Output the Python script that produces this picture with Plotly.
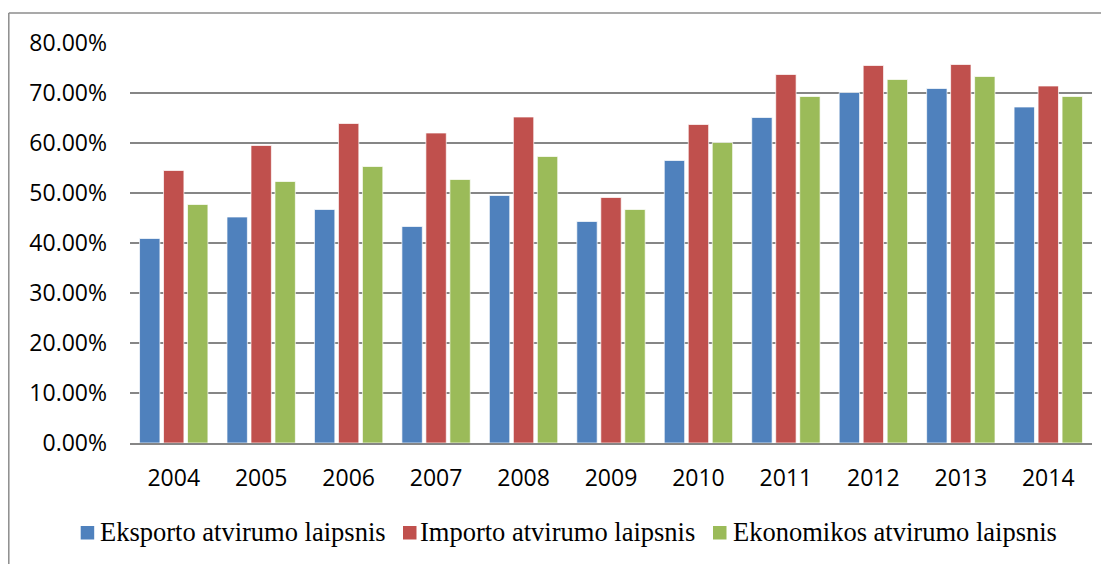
import plotly.graph_objects as go

years = ["2004", "2005", "2006", "2007", "2008", "2009", "2010", "2011", "2012", "2013", "2014"]
eksportas = [0.409, 0.452, 0.467, 0.433, 0.495, 0.443, 0.565, 0.651, 0.701, 0.709, 0.672]
importas = [0.545, 0.595, 0.639, 0.620, 0.652, 0.491, 0.637, 0.737, 0.755, 0.757, 0.714]
ekonomika = [0.477, 0.523, 0.553, 0.527, 0.573, 0.467, 0.601, 0.693, 0.727, 0.733, 0.693]

names = ["Eksporto atvirumo laipsnis", "Importo atvirumo laipsnis", "Ekonomikos atvirumo laipsnis"]
colors = ["#4F81BD", "#C0504D", "#9BBB59"]

# page body has an 8px margin; figure occupies the rest of the 1109x564 window
W, H = 1101, 556
L, R, T, B = 122, 17, 35, 121

fig = go.Figure()
for name, vals, col in zip(names, [eksportas, importas, ekonomika], colors):
    fig.add_trace(go.Bar(
        x=years, y=vals, name=name,
        marker=dict(color=col, line=dict(color="rgba(255,255,255,0.7)", width=1)),
    ))

pw, ph = W - L - R, H - T - B
def px(x):
    return (x - L) / pw
def py(y):
    return 1 - (y - T) / ph

# chart-area frame (left and top edges visible)
fig.add_shape(type="line", xref="paper", yref="paper",
              x0=px(0.8), x1=px(0.8), y0=py(5), y1=py(570),
              line=dict(color="#8c8c8c", width=1.5))
fig.add_shape(type="line", xref="paper", yref="paper",
              x0=px(0.8), x1=px(1115), y0=py(5), y1=py(5),
              line=dict(color="#8c8c8c", width=1.5))

# legend (Excel style: small square, tight text)
sq_x = [72.7, 395, 705]
tx_x = [89.5, 409.5, 723]
sq_size = 13.5
leg_y = 525
for name, col, sx, tx in zip(names, colors, sq_x, tx_x):
    fig.add_shape(type="rect", xref="paper", yref="paper",
                  x0=px(sx), x1=px(sx + sq_size), y0=py(leg_y - 7), y1=py(leg_y + 6.5),
                  fillcolor=col, line=dict(width=0))
    fig.add_annotation(xref="paper", yref="paper", x=px(tx), y=py(leg_y - 1),
                       xanchor="left", yanchor="middle", showarrow=False, text=name,
                       font=dict(family="Liberation Serif", size=26.5, color="black"))

fig.update_layout(
    width=W, height=H,
    margin=dict(l=L, r=R, t=T, b=B),
    paper_bgcolor="white", plot_bgcolor="white",
    barmode="group", bargap=0.177, bargroupgap=0.15,
    font=dict(family="Open Sans", size=23, color="black"),
    showlegend=False,
    xaxis=dict(showgrid=False, showline=True, linecolor="#868686", linewidth=1.5,
               ticks="", ticklabelstandoff=14, tickfont=dict(size=23)),
    yaxis=dict(range=[0, 0.8], dtick=0.1, tickformat=".2%", showgrid=True,
               gridcolor="#868686", gridwidth=1.5, zeroline=False, showline=False,
               ticks="", ticklabelstandoff=22, tickfont=dict(size=23)),
)

fig.write_html("out.html")
